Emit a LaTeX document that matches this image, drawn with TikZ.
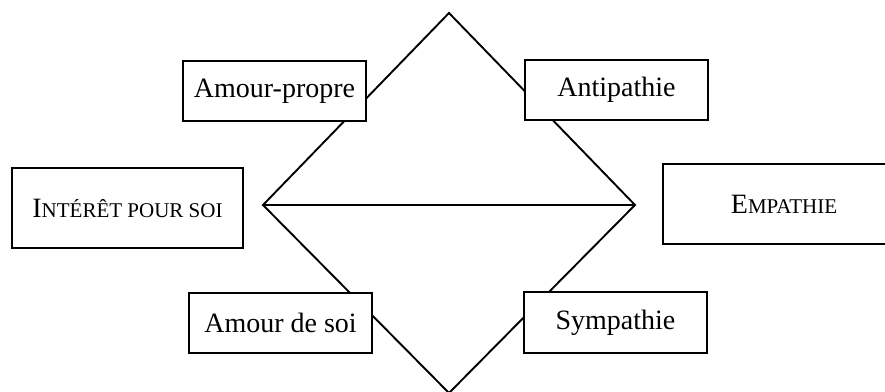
\documentclass[tikz,border=0pt]{standalone}
\usepackage{fontspec}
\setmainfont{Liberation Serif}
\newcommand{\mysc}[2]{#1{\fontsize{21}{24}\selectfont #2}}
\begin{document}
\begin{tikzpicture}[x=1pt,y=-1pt,
  lbox/.style={draw=black,line width=1.7pt,fill=white,inner sep=0pt,
    font=\fontsize{28}{32}\selectfont},
  edge/.style={draw=black,line width=1.9pt,line join=miter}]
\useasboundingbox (0,0) rectangle (885,391);
% diamond vertices
\coordinate (T) at (449,13);
\coordinate (L) at (263,205);
\coordinate (R) at (635,205);
\coordinate (B) at (449,393);
\draw[edge] (T) -- (L) -- (B) -- (R) -- cycle;
\draw[edge] (L) -- (R);
% boxes
\node[lbox,minimum width=183pt,minimum height=60pt] (ap) at (274.5,91) {Amour-propre};
\node[lbox,minimum width=183pt,minimum height=60pt] (anti) at (616.5,90) {Antipathie};
\node[lbox,minimum width=231pt,minimum height=80pt] (int) at (127.5,208) {\mysc{I}{NTÉRÊT POUR SOI}};
\node[lbox,minimum width=242pt,minimum height=80pt] (emp) at (784,204) {\mysc{E}{MPATHIE}};
\node[lbox,minimum width=183pt,minimum height=60pt] (ads) at (280.5,323) {Amour de soi};
\node[lbox,minimum width=183pt,minimum height=61pt] (sym) at (615.5,322.5) {Sympathie};
\end{tikzpicture}
\end{document}
